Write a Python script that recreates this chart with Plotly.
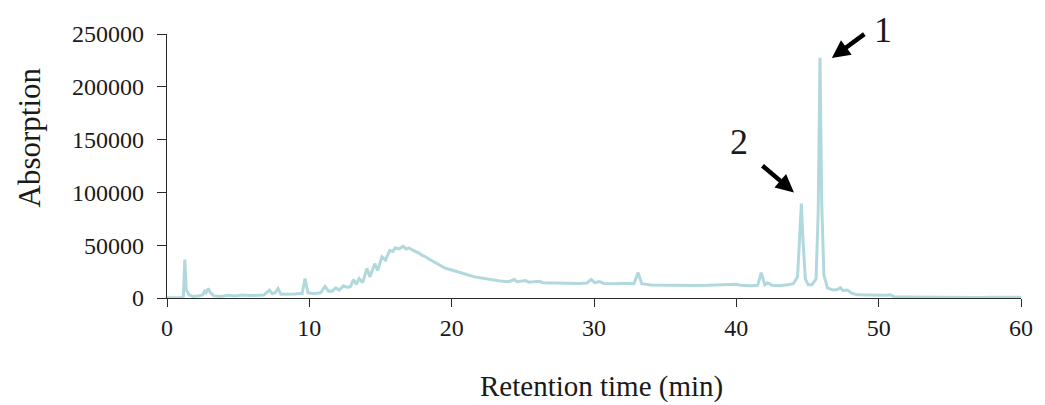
import plotly.graph_objects as go

# Retention time (min) and detector absorption
time_min = [0.0, 1.0, 1.15, 1.25, 1.35, 1.45, 1.55, 1.8, 2.2, 2.5, 2.65, 2.75, 2.9, 3.05, 3.3,
            3.8, 4.3, 4.8, 5.3, 5.8, 6.3, 6.8, 7.2, 7.4, 7.6, 7.8, 8.0, 8.5, 9.0, 9.5,
            9.7, 9.9, 10.3, 10.8, 11.1, 11.35, 11.6, 11.85, 12.1, 12.4, 12.7, 12.9, 13.1, 13.3, 13.5,
            13.75, 14.05, 14.25, 14.6, 14.8, 15.1, 15.35, 15.65, 15.85, 16.05, 16.3, 16.6, 16.8, 17.0, 17.3,
            17.5, 17.7, 17.9, 18.1, 18.4, 18.6, 19.0, 19.5, 20.0, 20.5, 21.0, 21.6, 22.2, 22.8, 23.4,
            24.0, 24.4, 24.6, 25.2, 25.4, 26.2, 26.4, 27.0, 28.0, 29.0, 29.5, 29.8, 30.05, 30.4, 30.7,
            31.5, 32.2, 32.8, 33.1, 33.35, 34.0, 35.0, 36.0, 37.0, 38.0, 39.0, 40.0, 40.3, 41.0, 41.5,
            41.75, 42.0, 42.2, 42.5, 43.0, 43.6, 44.0, 44.3, 44.47, 44.57, 44.68, 44.85, 45.05, 45.3, 45.6,
            45.75, 45.88, 46.0, 46.15, 46.4, 46.8, 47.1, 47.3, 47.5, 47.8, 48.1, 48.5, 49.0, 49.5, 50.0,
            50.5, 50.8, 51.1, 52.0, 53.0, 54.0, 55.0, 56.0, 57.0, 58.0, 59.0, 60.0]
absorption = [300, 500, 1500, 36500, 8000, 5500, 3000, 1500, 1800, 3000, 6500, 5000, 9000, 5000, 2000,
              1500, 2500, 2000, 2800, 2300, 2500, 2800, 7500, 4000, 5000, 9000, 3500, 3500, 3800, 4500,
              18500, 5000, 4000, 5000, 11000, 6500, 6500, 9500, 7500, 11500, 10000, 11000, 17500, 13000, 18500,
              14500, 28000, 20000, 32500, 26000, 39000, 36000, 45000, 44000, 47500, 46500, 49000, 46500, 47500, 45000,
              44000, 42500, 40500, 39500, 37000, 35500, 32000, 28500, 26500, 24800, 22500, 20000, 18500, 17000, 16200,
              15500, 17500, 15500, 16500, 15000, 15800, 14500, 14200, 14000, 13800, 14200, 17500, 14500, 15500, 13800,
              13500, 14000, 13500, 24000, 13500, 12300, 12000, 12000, 11800, 12000, 12200, 13000, 12000, 11500, 12000,
              24000, 12500, 14500, 12000, 11500, 12500, 13500, 20000, 60000, 89500, 55000, 18000, 12500, 12500, 18000,
              80000, 227500, 90000, 22000, 9500, 7500, 8000, 9800, 7000, 7500, 4500, 3000, 2800, 2800, 2500,
              2500, 3000, 1200, 1000, 800, 500, 500, 700, 500, 700, 500, 600]

y_ticks = [0, 50000, 100000, 150000, 200000, 250000]
x_ticks = [0, 10, 20, 30, 40, 50, 60]
peak_labels = ["1", "2"]

FONT = "Liberation Serif, Times New Roman, serif"
AX = "#2b2b2b"

fig = go.Figure()
fig.add_trace(go.Scatter(
    x=time_min, y=absorption, mode="lines",
    line=dict(color="#b1d9dd", width=3),
    showlegend=False, hoverinfo="x+y",
))

fig.update_layout(
    width=1045, height=405,
    margin=dict(l=167, r=17, t=34, b=107),
    plot_bgcolor="white", paper_bgcolor="white",
    font=dict(family=FONT, size=24, color="#1a1a1a"),
    xaxis=dict(
        range=[0, 60], tickvals=x_ticks, ticktext=[str(v) for v in x_ticks],
        showline=True, linecolor=AX, linewidth=1.3, ticks="outside", ticklen=8,
        tickcolor=AX, tickwidth=1.3, showgrid=False, zeroline=False,
        layer="below traces", ticklabelstandoff=0,
    ),
    yaxis=dict(
        range=[0, 250000], tickvals=y_ticks, ticktext=[str(v) for v in y_ticks],
        showline=True, linecolor=AX, linewidth=1.3, ticks="outside", ticklen=9,
        tickcolor=AX, tickwidth=1.3, showgrid=False, zeroline=False,
        ticklabelstandoff=8,
    ),
    annotations=[
        dict(text="Absorption", xref="paper", yref="paper", x=-0.1614, y=0.6086,
             textangle=-90, showarrow=False, font=dict(size=31, family=FONT),
             xanchor="center", yanchor="middle"),
        dict(text="Retention time (min)", xref="paper", yref="paper", x=0.5087, y=(298 - 386) / 263.7,
             showarrow=False, font=dict(size=29, family=FONT),
             xanchor="center", yanchor="middle"),
        dict(text=peak_labels[0], xref="paper", yref="paper", x=(889 - 167) / 861, y=(298 - 30) / 263.7,
             showarrow=False, font=dict(size=36, family=FONT), xanchor="center", yanchor="middle"),
        dict(text=peak_labels[1], xref="paper", yref="paper", x=(744 - 167) / 861, y=(298 - 142) / 263.7,
             showarrow=False, font=dict(size=36, family=FONT), xanchor="center", yanchor="middle"),
        dict(text="", x=46.71, y=227200, xref="x", yref="y", showarrow=True,
             ax=34, ay=-25, arrowhead=2, arrowsize=0.8, arrowwidth=4.5, arrowcolor="black"),
        dict(text="", x=44.05, y=100000, xref="x", yref="y", showarrow=True,
             ax=-33, ay=-28, arrowhead=2, arrowsize=0.8, arrowwidth=4.5, arrowcolor="black"),
    ],
)

fig.write_html("out.html")
